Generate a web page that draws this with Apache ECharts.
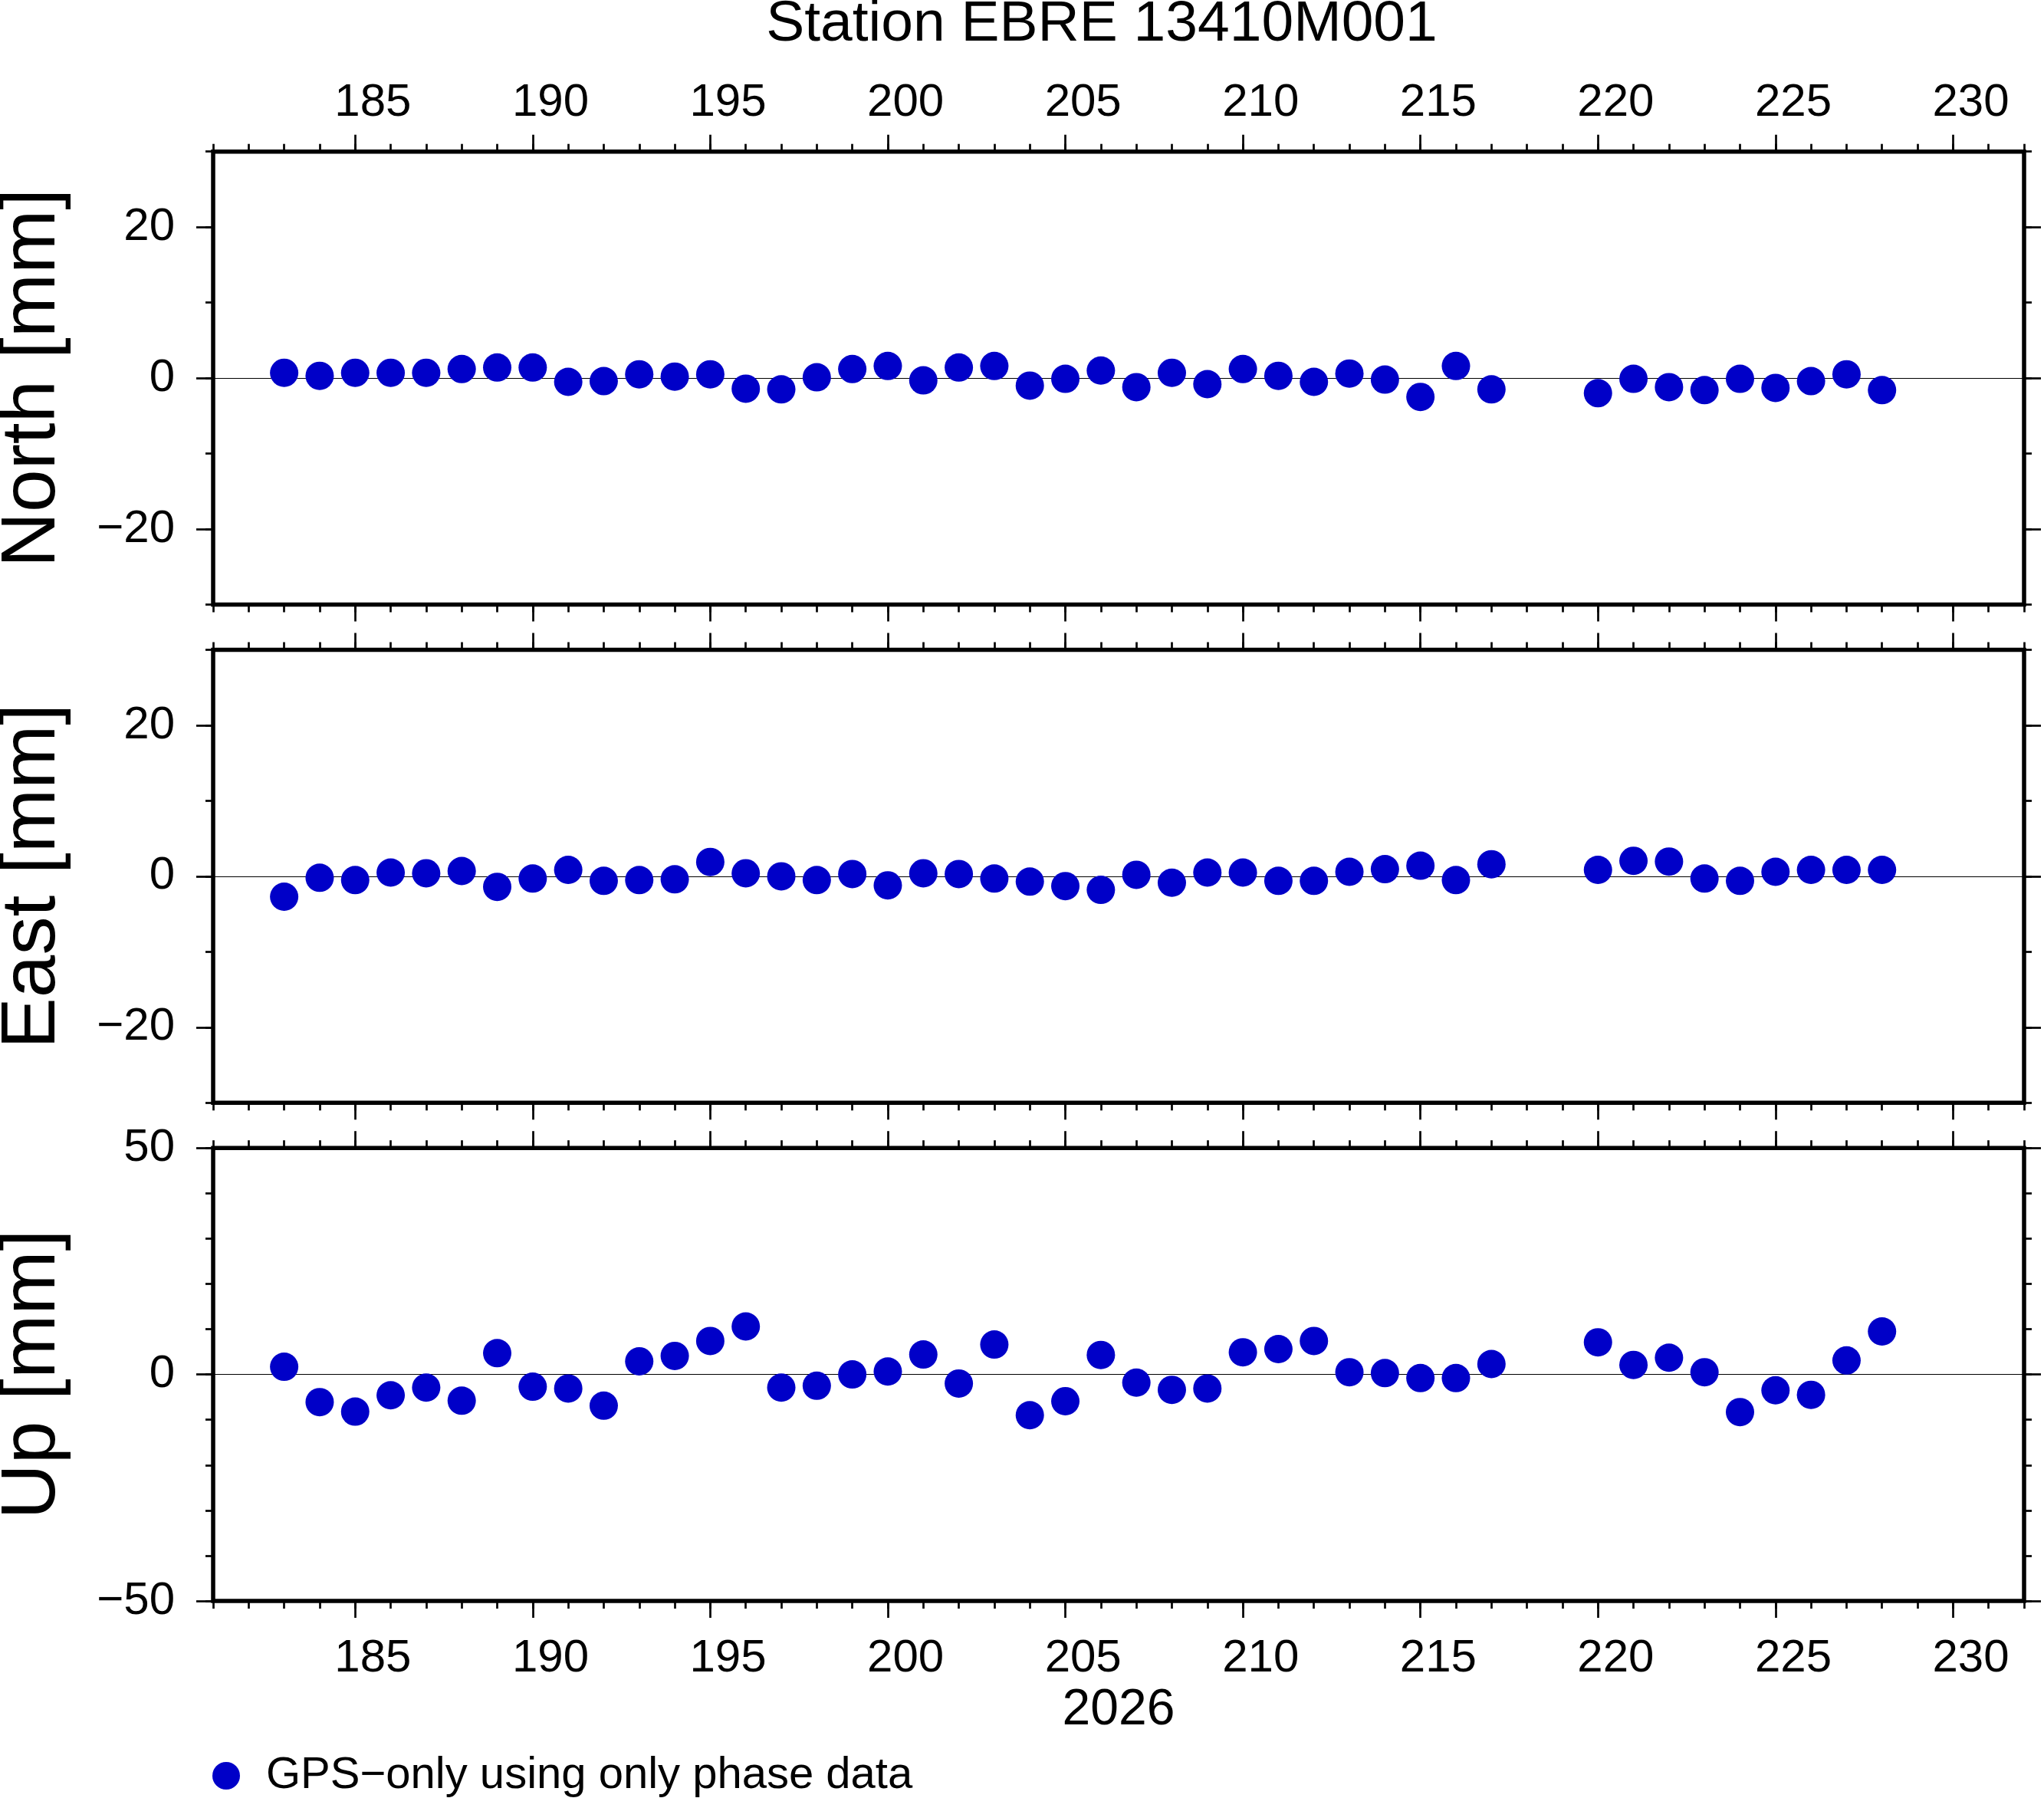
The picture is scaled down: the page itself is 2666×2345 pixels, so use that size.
<!DOCTYPE html>
<html>
<head>
<meta charset="utf-8">
<title>Station EBRE 13410M001</title>
<script src="https://cdn.jsdelivr.net/npm/echarts@6/dist/echarts.min.js"></script>
<style>
  html, body { margin: 0; padding: 0; background: #fff; }
  #chart { width: 2666px; height: 2345px; }
</style>
</head>
<body>
<div id="chart"></div>
<script>
// day of year 2026, one solution per day (gap on 218-219)
const days = [183, 184, 185, 186, 187, 188, 189, 190, 191, 192, 193, 194, 195, 196, 197,
  198, 199, 200, 201, 202, 203, 204, 205, 206, 207, 208, 209, 210, 211, 212, 213, 214,
  215, 216, 217, 220, 221, 222, 223, 224, 225, 226, 227, 228];

const north = [0.7, 0.3, 0.7, 0.7, 0.7, 1.2, 1.4, 1.4, -0.5, -0.4, 0.5, 0.2, 0.5, -1.4, -1.5,
  0.1, 1.2, 1.6, -0.3, 1.4, 1.6, -1.0, -0.1, 1.0, -1.2, 0.7, -0.8, 1.2, 0.3, -0.5, 0.6, -0.2,
  -2.5, 1.6, -1.5, -2.0, -0.1, -1.2, -1.6, -0.1, -1.3, -0.4, 0.5, -1.6];

const east = [-2.7, -0.2, -0.5, 0.5, 0.4, 0.7, -1.4, -0.3, 0.85, -0.6, -0.5, -0.4, 1.9, 0.4, 0.0,
  -0.5, 0.3, -1.2, 0.4, 0.3, -0.3, -0.7, -1.3, -1.8, 0.2, -0.85, 0.5, 0.5, -0.6, -0.6, 0.6, 0.95,
  1.4, -0.5, 1.6, 0.85, 2.05, 1.95, -0.3, -0.6, 0.6, 0.85, 0.85, 0.85];

const up = [1.7, -6.1, -8.2, -4.6, -2.9, -5.8, 4.7, -2.7, -3.1, -6.9, 2.9, 4.1, 7.4, 10.6, -2.9,
  -2.5, 0.0, 0.65, 4.4, -2.0, 6.6, -9.0, -5.9, 4.3, -1.8, -3.4, -3.1, 4.9, 5.6, 7.4, 0.5, 0.3,
  -0.8, -0.8, 2.3, 7.1, 2.1, 3.7, 0.5, -8.3, -3.5, -4.5, 3.1, 9.5];

const dayTicks = [185, 190, 195, 200, 205, 210, 215, 220, 225, 230];
const horizTicks = [-20, 0, 20];
const upTicks = [-50, 0, 50];

const panelNames = ['North [mm]', 'East [mm]', 'Up [mm]'];
const panelValues = [north, east, up];
const panelRange = [[-30, 30], [-30, 30], [-50, 50]];
const panelTicks = [horizTicks, horizTicks, upTicks];

const seriesName = 'GPS\u2212only using only phase data';
const titleText = 'Station EBRE 13410M001';
const yearText = '2026';

const FONT = "'Liberation Sans', Helvetica, Arial, sans-serif";
const BLACK = '#000';
const DOT = '#0000c8';

const chart = echarts.init(document.getElementById('chart'), null, {
  renderer: 'canvas',
  width: 2666,
  height: 2345
});

const gridTops = [197.7, 847.5, 1497.2];
const tickStyle = { color: BLACK, width: 2.7 };

function minus(v) {
  return v < 0 ? '\u2212' + Math.abs(v) : String(v);
}

const grids = [];
const xAxes = [];
const yAxes = [];
const series = [];

panelNames.forEach((name, g) => {
  grids.push({
    left: 278, right: 26, top: gridTops[g], height: 590.8,
    outerBoundsMode: 'none', containLabel: false,
    show: true, borderColor: BLACK, borderWidth: 5.5, backgroundColor: 'transparent'
  });

  // x axes: top (labels on first panel) and bottom (labels on last panel)
  ['top', 'bottom'].forEach(pos => {
    const labelled = (pos === 'top' && g === 0) || (pos === 'bottom' && g === 2);
    xAxes.push({
      gridIndex: g, type: 'value', position: pos, min: 181, max: 232,
      axisLine: { show: false, onZero: false },
      axisTick: { show: true, customValues: dayTicks, length: 22, lineStyle: tickStyle },
      axisLabel: {
        show: labelled,
        // day labels sit in the middle of the day interval
        customValues: dayTicks.map(d => d + 0.5),
        formatter: v => String(Math.floor(v)),
        margin: pos === 'top' ? 33 : 45,
        fontSize: 60, color: BLACK, fontFamily: FONT
      },
      splitLine: { show: false },
      name: (pos === 'bottom' && g === 2) ? yearText : '',
      nameLocation: 'middle', nameGap: 110,
      nameTextStyle: { fontSize: 66, color: BLACK, fontFamily: FONT }
    });
    xAxes.push({
      gridIndex: g, type: 'value', position: pos, min: 181, max: 232, interval: 1,
      axisLine: { show: false, onZero: false },
      axisTick: { show: true, length: 10, lineStyle: tickStyle },
      axisLabel: { show: false },
      splitLine: { show: false }
    });
  });

  // y axes: left (labels + name) and right (ticks only)
  ['left', 'right'].forEach(pos => {
    const left = pos === 'left';
    yAxes.push({
      gridIndex: g, type: 'value', position: pos,
      min: panelRange[g][0], max: panelRange[g][1],
      axisLine: { show: false, onZero: false },
      axisTick: { show: true, customValues: panelTicks[g], length: 22, lineStyle: tickStyle },
      axisLabel: {
        show: left, customValues: panelTicks[g], formatter: minus,
        showMinLabel: true, showMaxLabel: true,
        margin: 50, fontSize: 60, color: BLACK, fontFamily: FONT
      },
      splitLine: { show: false },
      name: left ? name : '',
      nameLocation: 'middle', nameGap: 185,
      nameTextStyle: { fontSize: 100, color: BLACK, fontFamily: FONT }
    });
    yAxes.push({
      gridIndex: g, type: 'value', position: pos,
      min: panelRange[g][0], max: panelRange[g][1], interval: 10,
      axisLine: { show: false, onZero: false },
      axisTick: { show: true, length: 10, lineStyle: tickStyle },
      axisLabel: { show: false },
      splitLine: { show: false }
    });
  });

  series.push({
    name: seriesName,
    type: 'scatter',
    xAxisIndex: 4 * g + 2,
    yAxisIndex: 4 * g,
    symbol: 'circle',
    symbolSize: 37,
    itemStyle: { color: DOT, opacity: 1 },
    z: 3,
    data: days.map((d, i) => [d, panelValues[g][i]]),
    markLine: {
      silent: true,
      z: 1,
      symbol: ['none', 'none'],
      label: { show: false },
      lineStyle: { color: BLACK, width: 1.2, type: 'solid', opacity: 1 },
      emphasis: { disabled: true },
      data: [{ yAxis: 0 }]
    }
  });
});

chart.setOption({
  animation: false,
  backgroundColor: '#fff',
  textStyle: { fontFamily: FONT },
  grid: grids,
  xAxis: xAxes,
  yAxis: yAxes,
  series: series,
  legend: {
    data: [seriesName],
    left: 277, top: 2287, padding: 0,
    icon: 'circle', itemWidth: 94, itemHeight: 36,
    selectedMode: false,
    textStyle: { fontSize: 58, color: BLACK, fontFamily: FONT }
  },
  graphic: [{
    type: 'text',
    x: 1437, y: 32,
    style: {
      text: titleText,
      font: '75px ' + FONT,
      fill: BLACK,
      align: 'center',
      verticalAlign: 'middle'
    }
  }]
});
</script>
</body>
</html>
